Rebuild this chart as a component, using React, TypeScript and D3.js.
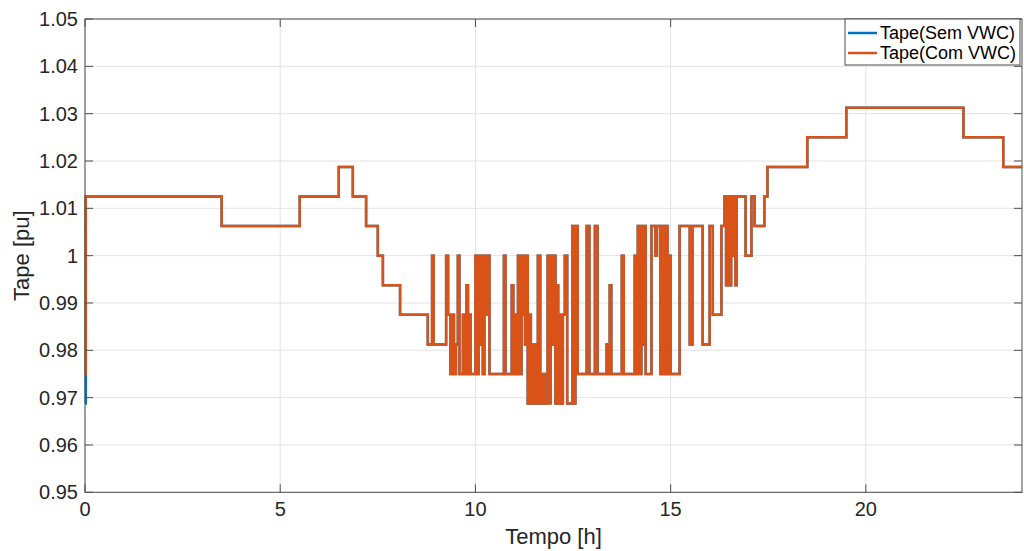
import React from "react";
import * as d3 from "d3";

// Tap change points for "Tape(Com VWC)": [time in h, tap value in pu]
const comTimes: number[] = [
  0, 0.02, 3.5, 5.5, 6.5, 6.86, 7.2, 7.5, 7.63, 8.07, 8.78, 8.89, 8.93, 9.25, 9.3, 9.36, 9.4, 9.45, 9.5, 9.55,
  9.59, 9.68, 9.72, 9.77, 9.81, 9.85, 9.88, 10.0, 10.04, 10.08, 10.11, 10.15, 10.19, 10.23, 10.27, 10.31, 10.36,
  10.73, 10.77, 10.93, 10.97, 11.01, 11.05, 11.09, 11.14, 11.18, 11.21, 11.27, 11.3, 11.34, 11.38, 11.42, 11.46,
  11.49, 11.53, 11.57, 11.6, 11.66, 11.73, 11.78, 11.85, 11.89, 11.93, 11.97, 12.01, 12.05, 12.08, 12.12, 12.16,
  12.2, 12.24, 12.29, 12.35, 12.48, 12.52, 12.56, 12.62, 12.85, 12.92, 13.06, 13.13, 13.36, 13.4, 13.44, 13.48,
  13.75, 13.8, 14.08, 14.12, 14.16, 14.21, 14.25, 14.29, 14.32, 14.36, 14.51, 14.61, 14.65, 14.74, 14.78, 14.85,
  14.89, 14.92, 14.96, 15.0, 15.23, 15.49, 15.56, 15.82, 16.0, 16.08, 16.3, 16.38, 16.42, 16.46, 16.51, 16.55,
  16.59, 16.62, 16.66, 16.69, 16.79, 16.92, 17.07, 17.15, 17.4, 17.48, 18.5, 19.5, 22.5, 23.52, 24,
];
const comValues: number[] = [
  0.975, 1.0125, 1.00625, 1.0125, 1.01875, 1.0125, 1.00625, 1.0, 0.99375, 0.9875, 0.98125, 1.0, 0.98125, 1.0, 0.9875, 0.975, 0.9875, 0.975, 0.98125, 1.0,
  0.975, 0.9875, 0.975, 0.99375, 0.975, 0.9875, 0.975, 1.0, 0.975, 1.0, 0.98125, 1.0, 0.975, 1.0, 0.9875, 1.0, 0.975,
  1.0, 0.975, 0.99375, 0.975, 0.9875, 0.975, 1.0, 0.975, 0.9875, 1.0, 0.98125, 1.0, 0.96875, 0.9875, 0.96875, 0.98125,
  0.96875, 0.98125, 0.96875, 1.0, 0.96875, 0.975, 0.96875, 1.0, 0.96875, 1.0, 0.98125, 1.0, 0.96875, 0.99375, 0.96875, 0.9875,
  0.96875, 0.9875, 1.0, 0.96875, 1.00625, 0.96875, 1.00625, 0.975, 1.00625, 0.975, 1.00625, 0.975, 0.98125, 0.975, 0.99375, 0.975,
  1.0, 0.975, 1.0, 0.975, 1.00625, 0.975, 1.00625, 0.98125, 1.00625, 0.975, 1.00625, 1.0, 1.00625, 0.975, 1.00625, 0.975,
  1.00625, 0.975, 1.0, 0.975, 1.00625, 0.98125, 1.00625, 0.98125, 1.00625, 0.9875, 1.00625, 1.0125, 0.99375, 1.0125, 0.99375, 1.0125,
  1.0, 1.0125, 0.99375, 1.0125, 1.0125, 1.0, 1.0125, 1.00625, 1.0125, 1.01875, 1.025, 1.03125, 1.025, 1.01875, 1.01875,
];

// "Tape(Sem VWC)" differs from the other series only at these change points (otherwise hidden below it)
const semDiffTimes: number[] = [0, 11.49, 11.53, 11.89, 11.93];
const semDiffValues: number[] = [0.96875, 0.96875, 0.98125, 0.98125, 1.0];

const xTicks: number[] = [0, 5, 10, 15, 20];
const yTicks: number[] = [0.95, 0.96, 0.97, 0.98, 0.99, 1.0, 1.01, 1.02, 1.03, 1.04, 1.05];
const seriesNames: string[] = ["Tape(Sem VWC)", "Tape(Com VWC)"];
const seriesColors: string[] = ["#0072BD", "#D95319"];

type Pt = [number, number];

function buildSem(): Pt[] {
  const m = new Map<number, number>();
  comTimes.forEach((t, i) => m.set(t, comValues[i]));
  semDiffTimes.forEach((t, i) => m.set(t, semDiffValues[i]));
  return Array.from(m.entries()).sort((a, b) => a[0] - b[0]) as Pt[];
}

export default function App() {
  const W = 1024;
  const H = 551;
  const x = d3.scaleLinear().domain([0, 24]).range([85, 1022]);
  const y = d3.scaleLinear().domain([0.95, 1.05]).range([492.3, 19]);
  const line = d3
    .line<Pt>()
    .x((d) => x(d[0]))
    .y((d) => y(d[1]))
    .curve(d3.curveStepAfter);

  const com: Pt[] = comTimes.map((t, i) => [t, comValues[i]]);
  const sem = buildSem();

  const [x0, x1] = x.range();
  const [yb, yt] = y.range();
  const axisColor = "#4d4d4d";
  const gridColor = "#e3e3e3";
  const tickLen = 8;
  const font = "Arial, 'Liberation Sans', Helvetica, sans-serif";

  return (
    <div style={{ position: "absolute", left: 0, top: 0 }}>
      <svg width={W} height={H} style={{ display: "block", background: "#fff" }}>
        <rect x={0} y={0} width={W} height={H} fill="#fff" />
        {/* grid */}
        {xTicks.map((t) => (
          <line key={"gx" + t} x1={x(t)} x2={x(t)} y1={yt} y2={yb} stroke={gridColor} strokeWidth={1} />
        ))}
        {yTicks.map((t) => (
          <line key={"gy" + t} x1={x0} x2={x1} y1={y(t)} y2={y(t)} stroke={gridColor} strokeWidth={1} />
        ))}
        {/* series */}
        <path d={line(sem) || ""} fill="none" stroke={seriesColors[0]} strokeWidth={2.5} strokeLinejoin="miter" />
        <path d={line(com) || ""} fill="none" stroke={seriesColors[1]} strokeWidth={2.5} strokeLinejoin="miter" />
        {/* box */}
        <rect x={x0} y={yt} width={x1 - x0} height={yb - yt} fill="none" stroke={axisColor} strokeWidth={1} />
        {/* ticks */}
        {xTicks.map((t) => (
          <g key={"tx" + t}>
            <line x1={x(t)} x2={x(t)} y1={yb} y2={yb - tickLen} stroke={axisColor} />
            <line x1={x(t)} x2={x(t)} y1={yt} y2={yt + tickLen} stroke={axisColor} />
            <text x={x(t)} y={516} textAnchor="middle" fontFamily={font} fontSize={20} fill="#262626">
              {d3.format("d")(t)}
            </text>
          </g>
        ))}
        {yTicks.map((t) => (
          <g key={"ty" + t}>
            <line x1={x0} x2={x0 + tickLen} y1={y(t)} y2={y(t)} stroke={axisColor} />
            <line x1={x1} x2={x1 - tickLen} y1={y(t)} y2={y(t)} stroke={axisColor} />
            <text x={78} y={y(t) + 7} textAnchor="end" fontFamily={font} fontSize={20} fill="#262626">
              {t === 1 ? "1" : d3.format(".2f")(t)}
            </text>
          </g>
        ))}
        {/* axis labels */}
        <text x={(x0 + x1) / 2} y={544} textAnchor="middle" fontFamily={font} fontSize={22} fill="#262626">
          Tempo [h]
        </text>
        <text
          transform={`translate(29, ${(yt + yb) / 2}) rotate(-90)`}
          textAnchor="middle"
          fontFamily={font}
          fontSize={22}
          fill="#262626"
        >
          Tape [pu]
        </text>
        {/* legend */}
        <g>
          <rect x={845} y={19} width={175} height={46} fill="#fff" stroke={axisColor} strokeWidth={1} />
          {seriesNames.map((n, i) => (
            <g key={n}>
              <line x1={848} x2={877} y1={33 + i * 20} y2={33 + i * 20} stroke={seriesColors[i]} strokeWidth={2.5} />
              <text x={880} y={39 + i * 20} fontFamily={font} fontSize={18} fill="#000">
                {n}
              </text>
            </g>
          ))}
        </g>
      </svg>
    </div>
  );
}
